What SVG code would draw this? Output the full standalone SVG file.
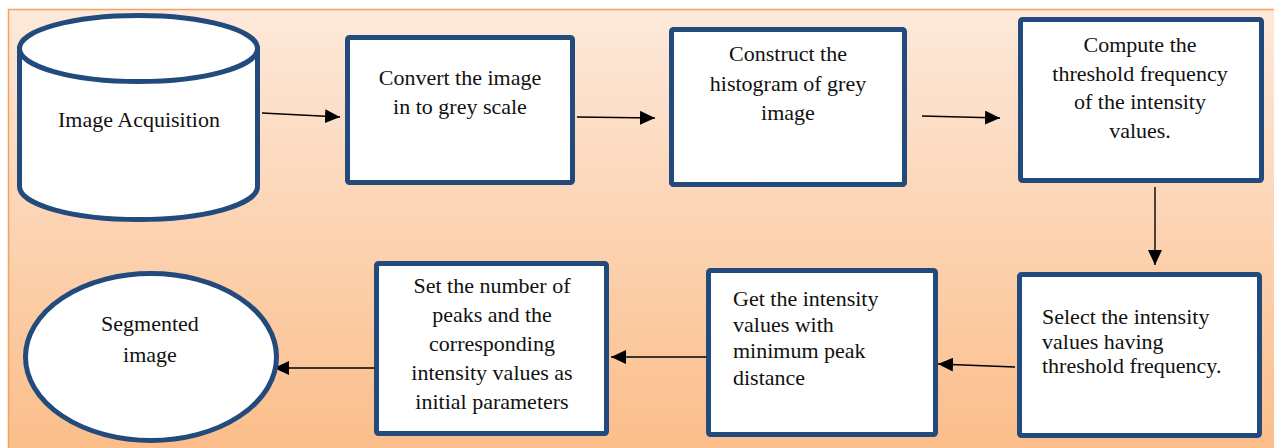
<svg xmlns="http://www.w3.org/2000/svg" width="1274" height="448" viewBox="0 0 1274 448">
<defs>
<linearGradient id="bg" x1="0" y1="0" x2="0" y2="1">
<stop offset="0" stop-color="#fde9db"/>
<stop offset="1" stop-color="#fbbd89"/>
</linearGradient>
<marker id="ah" markerWidth="16" markerHeight="14" refX="15" refY="7" orient="auto" markerUnits="userSpaceOnUse">
<path d="M0,0 L15,7 L0,14 Z" fill="#000"/>
</marker>
<style>
.n{fill:#fff;stroke:#234a7d;stroke-width:5}
.t{font-family:'Liberation Serif','Times New Roman',serif;font-size:22px;fill:#111}
.c{text-anchor:middle}
.e{fill:none;stroke:#000;stroke-width:1.4}
</style>
</defs>
<rect x="0" y="0" width="1274" height="448" fill="#fff"/>
<rect x="8.5" y="9.5" width="1270" height="445" fill="url(#bg)" stroke="#f5a15e" stroke-width="1.5"/>
<g id="connectors">
<path class="e" d="M262,113 L340,117" marker-end="url(#ah)"/>
<path class="e" d="M577,117 L655,118" marker-end="url(#ah)"/>
<path class="e" d="M922,116 L1000,118" marker-end="url(#ah)"/>
<path class="e" d="M1155,187 L1155,265" marker-end="url(#ah)"/>
<path class="e" d="M1015,367 L938,364" marker-end="url(#ah)"/>
<path class="e" d="M713,357 L611,357" marker-end="url(#ah)"/>
<path class="e" d="M374,368 L274,368" marker-end="url(#ah)"/>
</g>
<g id="acquisition">
<path class="n" d="M19.5,48.5 L19.5,186.5 A119,33 0 0 0 257.5,186.5 L257.5,48.5 Z"/>
<ellipse class="n" cx="138.5" cy="48.5" rx="119" ry="33"/>
<text class="t c" x="139" y="127">Image Acquisition</text>
</g>
<g id="convert">
<rect class="n" x="347.5" y="37.5" width="225" height="145" rx="2"/>
<text class="t c" x="460" y="85">Convert the image</text>
<text class="t c" x="460" y="114">in to grey scale</text>
</g>
<g id="histogram">
<rect class="n" x="671.5" y="29.5" width="233" height="155" rx="2"/>
<text class="t c" x="788" y="61">Construct the</text>
<text class="t c" x="788" y="91">histogram of grey</text>
<text class="t c" x="788" y="120">image</text>
</g>
<g id="threshold">
<rect class="n" x="1020.5" y="19.5" width="241" height="161" rx="2"/>
<text class="t c" x="1140" y="52">Compute the</text>
<text class="t c" x="1140" y="81">threshold frequency</text>
<text class="t c" x="1140" y="109">of the intensity</text>
<text class="t c" x="1140" y="138">values.</text>
</g>
<g id="select">
<rect class="n" x="1019.5" y="274.5" width="240" height="161" rx="2"/>
<text class="t" x="1042" y="324">Select the intensity</text>
<text class="t" x="1042" y="349">values having</text>
<text class="t" x="1042" y="373">threshold frequency.</text>
</g>
<g id="getvalues">
<rect class="n" x="708.5" y="270.5" width="227" height="164" rx="2"/>
<text class="t" x="733" y="306">Get the intensity</text>
<text class="t" x="733" y="332">values with</text>
<text class="t" x="733" y="358">minimum peak</text>
<text class="t" x="733" y="385">distance</text>
</g>
<g id="setpeaks">
<rect class="n" x="376.5" y="263.5" width="230" height="170" rx="2"/>
<text class="t c" x="492" y="293">Set the number of</text>
<text class="t c" x="492" y="322">peaks and the</text>
<text class="t c" x="492" y="351">corresponding</text>
<text class="t c" x="492" y="380">intensity values as</text>
<text class="t c" x="492" y="409">initial parameters</text>
</g>
<g id="segmented">
<ellipse class="n" cx="151" cy="357" rx="125.5" ry="83.5"/>
<text class="t c" x="150" y="331">Segmented</text>
<text class="t c" x="150" y="362">image</text>
</g>
</svg>
